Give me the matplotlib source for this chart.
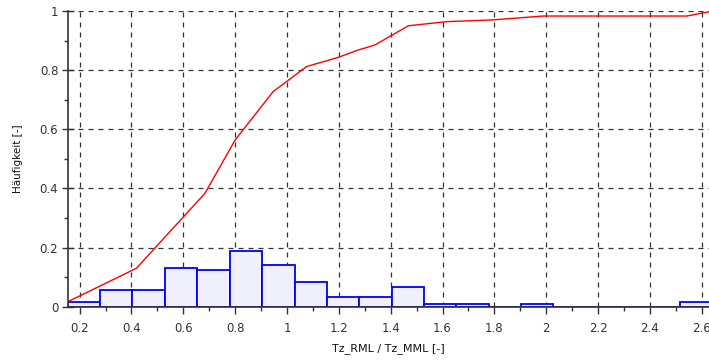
import numpy as np
import matplotlib
matplotlib.use("Agg")
import matplotlib.pyplot as plt
from matplotlib.ticker import MultipleLocator

# Histogram bins (ratio Tz_RML / Tz_MML) and relative frequencies
bin_edges = [0.155, 0.277, 0.402, 0.528, 0.654, 0.779, 0.904, 1.029, 1.154,
             1.279, 1.404, 1.529, 1.653, 1.778, 1.903, 2.028, 2.153, 2.278,
             2.403, 2.518, 2.643]
freq = [0.017, 0.056, 0.056, 0.132, 0.123, 0.188, 0.140, 0.083, 0.034, 0.034,
        0.066, 0.008, 0.008, 0.0, 0.008, 0.0, 0.0, 0.0, 0.0, 0.017]

# Cumulative frequency curve
cum_x = [0.155, 0.419, 0.683, 0.800, 0.946, 1.075, 1.197, 1.274, 1.339, 1.468,
         1.615, 1.795, 1.988, 2.542, 2.643]
cum_y = [0.017, 0.130, 0.383, 0.564, 0.727, 0.812, 0.843, 0.868, 0.885, 0.950,
         0.964, 0.970, 0.983, 0.983, 1.0]

xticks = [0.2, 0.4, 0.6, 0.8, 1.0, 1.2, 1.4, 1.6, 1.8, 2.0, 2.2, 2.4, 2.6]
xtick_labels = ["0.2", "0.4", "0.6", "0.8", "1", "1.2", "1.4", "1.6", "1.8", "2", "2.2", "2.4", "2.6"]
yticks = [0, 0.2, 0.4, 0.6, 0.8, 1.0]
ytick_labels = ["0", "0.2", "0.4", "0.6", "0.8", "1"]

fig = plt.figure(figsize=(7.09, 3.62), dpi=100)
ax = fig.add_axes([0.0959, 0.1528, 1.0 - 0.0959, 0.8168])

edges = np.array(bin_edges)
widths = np.diff(edges)
ax.bar(edges[:-1], freq, width=widths, align="edge", color="#f0f0fc",
       edgecolor="#0000ff", linewidth=1.3, zorder=3, clip_on=True)
ax.plot(cum_x, cum_y, color="#ff0000", linewidth=1.0, zorder=4)

ax.set_xlim(0.155, 2.628)
ax.set_ylim(0, 1.0)
ax.set_xticks(xticks)
ax.set_xticklabels(xtick_labels)
ax.set_yticks(yticks)
ax.set_yticklabels(ytick_labels)
ax.xaxis.set_minor_locator(MultipleLocator(0.1))
ax.yaxis.set_minor_locator(MultipleLocator(0.1))

ax.grid(True, which="major", color="#333333", linestyle=(0, (4, 4)), linewidth=0.9, zorder=1)
for s in ["top", "right"]:
    ax.spines[s].set_visible(False)
for s in ["left", "bottom"]:
    ax.spines[s].set_color("#333333")
    ax.spines[s].set_linewidth(1.2)
    ax.spines[s].set_zorder(5)

ax.tick_params(axis="x", which="major", direction="out", length=5, width=1, color="#333333",
               labelsize=8.5, labelcolor="#333333", pad=6)
ax.tick_params(axis="x", which="minor", direction="out", length=3, width=1, color="#333333")
ax.tick_params(axis="y", which="major", direction="inout", length=8, width=1, color="#333333",
               labelsize=8.5, labelcolor="#333333", pad=3)
ax.tick_params(axis="y", which="minor", direction="out", length=3, width=1, color="#333333")

ax.set_xlabel("Tz_RML / Tz_MML [-]", fontsize=8, color="#111111", labelpad=6)
ax.set_ylabel("Häufigkeit [-]", fontsize=7.5, color="#111111", labelpad=12)

fig.savefig("out.png", dpi=100)
